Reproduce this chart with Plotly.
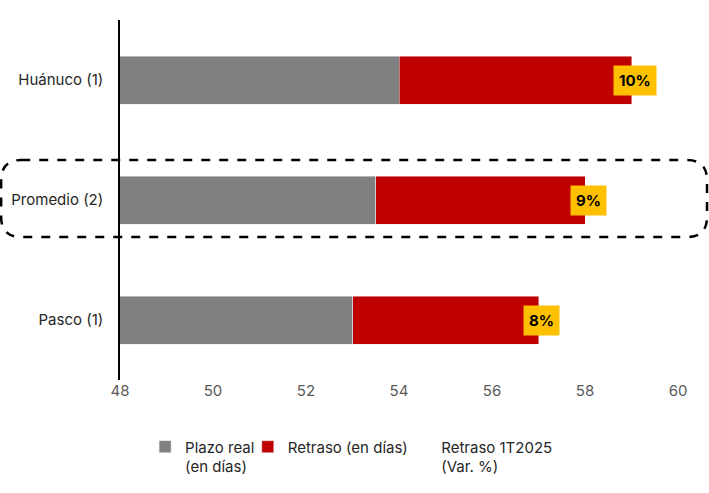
import plotly.graph_objects as go

categorias = ["Huánuco (1)", "Promedio (2)", "Pasco (1)"]
plazo_real = [54, 53.5, 53]
retraso = [5, 4.5, 4]
var_pct = ["10%", "9%", "8%"]

fig = go.Figure()
fig.add_trace(go.Bar(y=categorias, x=plazo_real, orientation="h", name="Plazo real<br>(en días)",
                     marker=dict(color="#808080"), legend="legend"))
fig.add_trace(go.Bar(y=categorias, x=retraso, orientation="h", name="Retraso (en días)",
                     marker=dict(color="#C00000"), legend="legend2"))
# entrada de leyenda sin simbolo
fig.add_trace(go.Scatter(x=[None], y=[None], mode="markers", name="Retraso 1T2025<br>(Var. %)",
                         marker=dict(color="rgba(0,0,0,0)", size=1), legend="legend3"))

for cat, p, r, t in zip(categorias, plazo_real, retraso, var_pct):
    fig.add_annotation(x=p + r, y=cat, text="<b>" + t + "</b>", showarrow=False,
                       bgcolor="#FFC000", font=dict(size=15, color="black"),
                       xshift=3, borderpad=5)

# rectangulo discontinuo alrededor del promedio
x0, x1, y0, y1 = -0.213, 1.052, 0.397, 0.611
rx, ry = 0.036, 0.056
path = (f"M {x0+rx},{y1} L {x1-rx},{y1} Q {x1},{y1} {x1},{y1-ry} L {x1},{y0+ry} "
        f"Q {x1},{y0} {x1-rx},{y0} L {x0+rx},{y0} Q {x0},{y0} {x0},{y0+ry} "
        f"L {x0},{y1-ry} Q {x0},{y1} {x0+rx},{y1} Z")
fig.add_shape(type="path", path=path, xref="paper", yref="paper",
              line=dict(color="black", width=2.5, dash="dash"))

leg = dict(orientation="h", xanchor="left", y=-0.14, yanchor="top", valign="top",
           font=dict(size=15, color="#262626"), bgcolor="rgba(0,0,0,0)")

fig.update_layout(
    width=709, height=493,
    barmode="stack", bargap=0.6,
    margin=dict(l=120, r=31, t=20, b=113, autoexpand=False),
    plot_bgcolor="white", paper_bgcolor="white",
    font=dict(family="Inter", size=15, color="#262626"),
    xaxis=dict(range=[48, 60], dtick=2, showgrid=False, zeroline=False, showline=False,
               tickfont=dict(color="#595959", size=15)),
    yaxis=dict(categoryorder="array", categoryarray=categorias[::-1], showline=True,
               linecolor="black", linewidth=1.5, ticks="", ticklabelstandoff=12,
               showgrid=False),
    legend=dict(leg, x=0.045),
    legend2=dict(leg, x=0.229),
    legend3=dict(leg, x=0.504),
    showlegend=True,
)

fig.write_html("out.html", config={"displayModeBar": False},
               post_script="document.body.style.margin='0';")
